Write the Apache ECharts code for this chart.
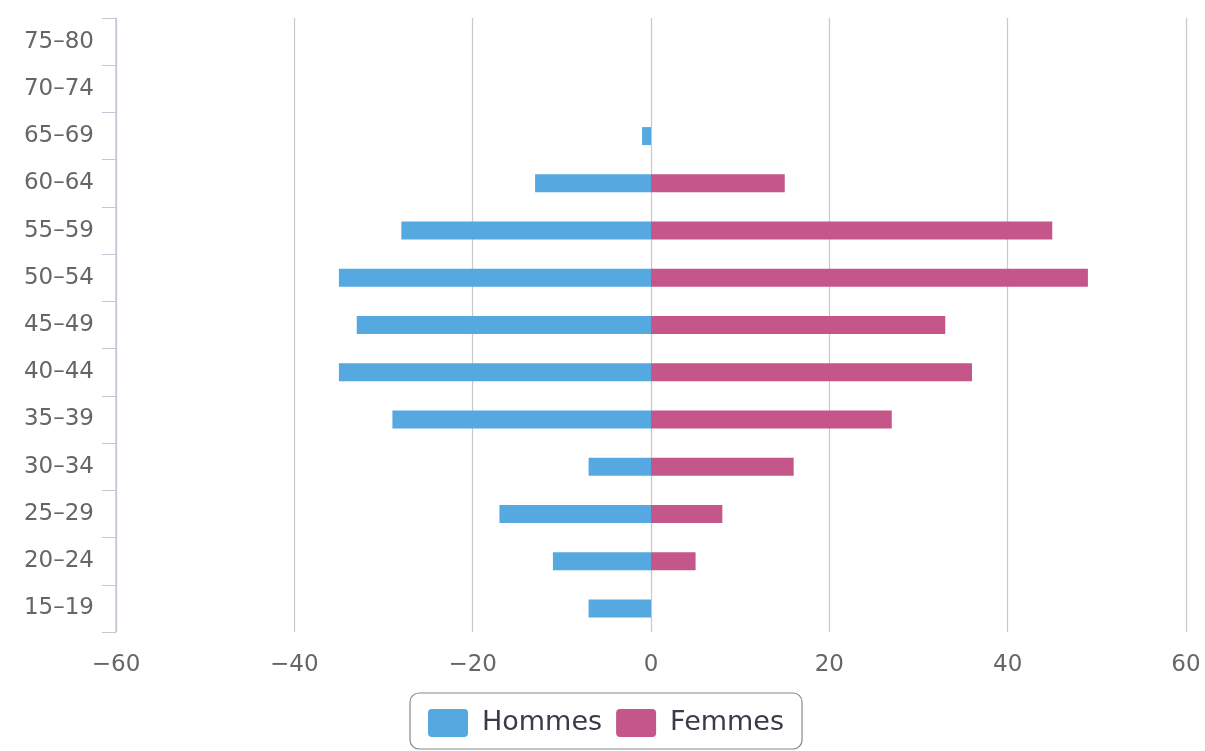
<!DOCTYPE html>
<html><head><meta charset="utf-8">
<script src="https://cdn.jsdelivr.net/npm/echarts@6/dist/echarts.min.js"></script>
<style>html,body{margin:0;padding:0;background:#fff}#c{width:1205px;height:751px}</style>
</head><body><div id="c"></div>
<script>
const categories = ['15–19','20–24','25–29','30–34','35–39','40–44','45–49','50–54','55–59','60–64','65–69','70–74','75–80'];
const hommes = [-7,-11,-17,-7,-29,-35,-33,-35,-28,-13,-1,0,0];
const femmes = [0,5,8,16,27,36,33,49,45,15,0,0,0];
const xTicks = { min: -60, max: 60, interval: 20 };

const chart = echarts.init(document.getElementById('c'));
chart.setOption({
  animation: false,
  textStyle: { fontFamily: 'DejaVu Sans' },
  grid: { left: 116, right: 19, top: 18, bottom: 119, containLabel: false },
  legend: {
    data: ['Hommes','Femmes'],
    top: 693, left: 410,
    itemWidth: 40, itemHeight: 28, icon: 'path://M4,0 H36 A4,4 0 0 1 40,4 V24 A4,4 0 0 1 36,28 H4 A4,4 0 0 1 0,24 V4 A4,4 0 0 1 4,0 Z',
    itemGap: 14,
    borderColor: '#888', borderWidth: 1.2, borderRadius: 9,
    padding: [16, 18, 12, 18],
    textStyle: { fontSize: 27, color: '#3a3a48', fontFamily: 'DejaVu Sans', padding: [0, 0, 0, 9] }
  },
  xAxis: {
    type: 'value', min: xTicks.min, max: xTicks.max, interval: xTicks.interval,
    axisLine: { show: false }, axisTick: { show: false },
    axisLabel: { fontSize: 23, color: '#666', margin: 22,
      formatter: v => String(v).replace('-', '−') },
    splitLine: { show: true, lineStyle: { color: '#c8c8c8', width: 1.2 } }
  },
  yAxis: {
    type: 'category', data: categories,
    axisLine: { show: true, onZero: false, lineStyle: { color: '#c0cad6', width: 1.5 } },
    axisTick: { show: true, length: 14, lineStyle: { color: '#c0cad6' } },
    axisLabel: { fontSize: 23, color: '#666', margin: 22, padding: [7, 0, 0, 0] }
  },
  series: [
    { name: 'Hommes', type: 'bar', stack: 'a', data: hommes, barWidth: 18,
      itemStyle: { color: '#56a8e0' } },
    { name: 'Femmes', type: 'bar', stack: 'a', data: femmes, barWidth: 18,
      itemStyle: { color: '#c4568a' } }
  ]
});
</script></body></html>
